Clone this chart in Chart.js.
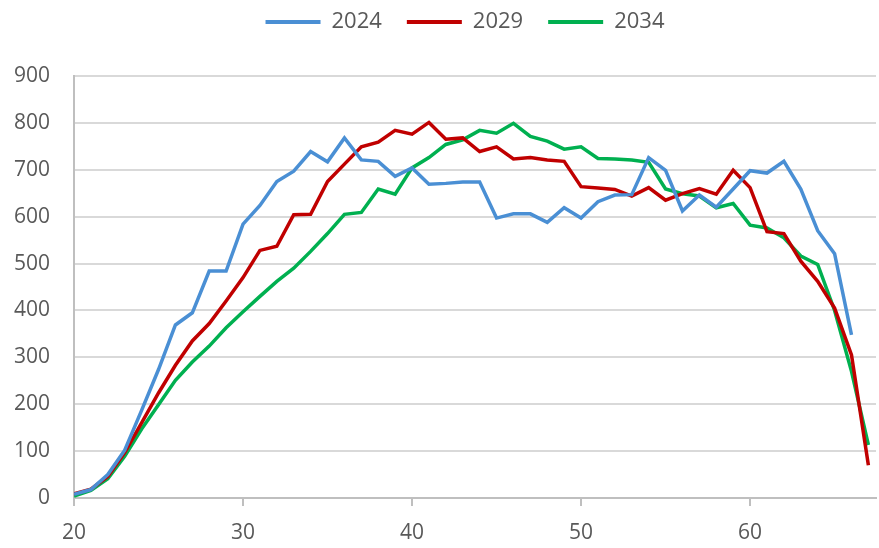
<!DOCTYPE html>
<html>
<head>
<meta charset="utf-8">
<script src="https://cdn.jsdelivr.net/npm/chart.js@4/dist/chart.umd.min.js"></script>
<style>
  html, body { margin: 0; padding: 0; background: #fff; }
  #wrap { width: 879px; height: 548px; position: relative; }
</style>
</head>
<body>
<div id="wrap"><canvas id="chart"></canvas></div>
<script>
// ages on the x axis
const ages = [20, 21, 22, 23, 24, 25, 26, 27, 28, 29, 30, 31, 32, 33, 34, 35, 36, 37, 38, 39,
              40, 41, 42, 43, 44, 45, 46, 47, 48, 49, 50, 51, 52, 53, 54, 55, 56, 57, 58, 59,
              60, 61, 62, 63, 64, 65, 66, 67];

const y2024 = [8, 18, 50, 102, 187, 274, 369, 395, 484, 484, 584, 624, 675, 697, 739, 717, 768, 721, 718, 686,
               704, 669, 671, 674, 674, 597, 606, 606, 588, 619, 597, 632, 646, 647, 726, 699, 612, 646, 620, 659,
               698, 693, 718, 659, 570, 521, 348, null];
const y2029 = [9, 19, 46, 97, 160, 224, 283, 335, 372, 420, 470, 528, 537, 604, 605, 675, 712, 749, 759, 784,
               776, 801, 765, 768, 739, 749, 723, 726, 721, 718, 664, 661, 658, 644, 662, 635, 649, 660, 648, 699,
               662, 568, 564, 505, 462, 405, 305, 70];
const y2034 = [4, 16, 41, 89, 147, 199, 251, 290, 324, 363, 397, 430, 462, 490, 526, 564, 605, 609, 659, 648,
               704, 726, 754, 764, 784, 778, 799, 771, 761, 744, 749, 724, 723, 721, 716, 659, 649, 644, 619, 628,
               582, 576, 555, 516, 498, 400, 270, 113];

const xTicks = [20, 30, 40, 50, 60];
const yTicks = [0, 100, 200, 300, 400, 500, 600, 700, 800, 900];

const seriesNames = ['2024', '2029', '2034'];
const seriesColors = ['#4a8fd4', '#c00000', '#00b050'];

const toPoints = arr => ages.map((a, i) => ({ x: a, y: arr[i] }));
const textColor = '#595959';
const fontFamily = "'Open Sans', sans-serif";

// legend takes the whole band above the plot, items sit near its top
const legendBand = {
    id: 'legendBand',
    beforeInit(chart) {
        const fit = chart.legend.fit;
        chart.legend.fit = function () {
            fit.call(this);
            this.height = 76;
        };
    },
    afterLayout(chart) {
        const lg = chart.legend;
        lg.top -= 14;
        lg.bottom -= 14;
        lg.left += 27;
        lg.right += 27;
    }
};

new Chart(document.getElementById('chart'), {
    type: 'line',
    data: {
        datasets: [y2024, y2029, y2034].map((arr, i) => ({
            label: seriesNames[i],
            data: toPoints(arr),
            borderColor: seriesColors[i],
            backgroundColor: seriesColors[i],
            borderWidth: 3.5,
            pointRadius: 0,
            tension: 0,
            spanGaps: false
        }))
    },
    plugins: [legendBand],
    options: {
        responsive: true,
        maintainAspectRatio: false,
        animation: false,
        layout: { padding: { left: 0, right: 3, top: 0, bottom: 0 } },
        plugins: {
            tooltip: { enabled: false },
            legend: {
                position: 'top',
                labels: {
                    color: textColor,
                    font: { family: fontFamily, size: 22 },
                    boxWidth: 55,
                    boxHeight: 4,
                    padding: 25,
                    generateLabels: chart => chart.data.datasets.map((ds, i) => ({
                        text: ds.label,
                        fillStyle: ds.borderColor,
                        strokeStyle: ds.borderColor,
                        lineWidth: 0,
                        fontColor: textColor,
                        datasetIndex: i
                    }))
                }
            }
        },
        scales: {
            x: {
                type: 'linear',
                min: 20,
                max: 67.45,
                afterBuildTicks: s => { s.ticks = xTicks.map(v => ({ value: v })); },
                afterFit: s => { s.height = 50; },
                border: { display: true, color: '#bfbfbf', width: 2 },
                grid: { display: true, drawOnChartArea: false, drawTicks: true, tickLength: 8, color: '#bfbfbf', lineWidth: 2 },
                ticks: { color: textColor, font: { family: fontFamily, size: 21 }, padding: 14, maxRotation: 0 }
            },
            y: {
                min: 0,
                max: 900,
                afterBuildTicks: s => { s.ticks = yTicks.map(v => ({ value: v })); },
                afterFit: s => { s.width = 74; },
                border: { display: true, color: '#bfbfbf', width: 2 },
                grid: { color: '#d9d9d9', lineWidth: 2, drawTicks: false },
                ticks: { color: textColor, font: { family: fontFamily, size: 21 }, padding: 24 }
            }
        }
    }
});
</script>
</body>
</html>
